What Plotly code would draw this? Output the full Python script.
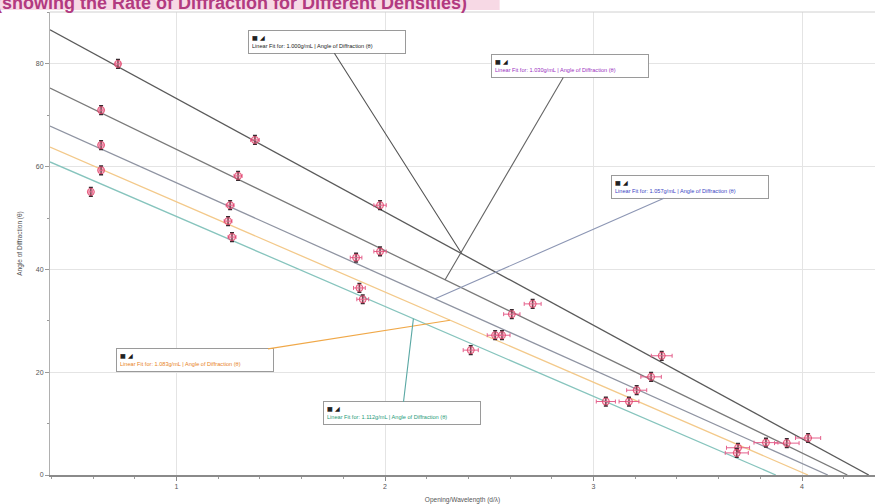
import plotly.graph_objects as go

# Liquid densities (g/mL) measured, one data set each
densities = ["1.000", "1.030", "1.057", "1.083", "1.112"]

# Opening / wavelength ratio (d/λ) and measured angle of diffraction (θ, degrees)
ratio_1000 = [0.719, 1.376, 1.976, 2.708, 3.327, 4.029]
angle_1000 = [80.0, 65.2, 52.5, 33.3, 23.2, 7.2]

ratio_1030 = [0.638, 1.295, 1.976, 2.608, 3.276, 3.927]
angle_1030 = [71.0, 58.2, 43.5, 31.3, 19.1, 6.2]

ratio_1057 = [0.638, 1.257, 1.861, 2.561, 3.207, 3.827]
angle_1057 = [64.2, 52.5, 42.3, 27.2, 16.5, 6.3]

ratio_1083 = [0.638, 1.247, 1.877, 2.528, 3.170, 3.693]
angle_1083 = [59.3, 49.4, 36.4, 27.2, 14.3, 5.3]

ratio_1112 = [0.589, 1.266, 1.893, 2.411, 3.059, 3.687]
angle_1112 = [55.1, 46.3, 34.2, 24.3, 14.3, 4.3]

# Linear fit results (angle = slope * ratio + intercept)
fit_slope = [-22.06, -19.69, -18.20, -17.55, -17.50]
fit_intercept = [95.30, 83.04, 75.05, 70.70, 67.80]

ratios = [ratio_1000, ratio_1030, ratio_1057, ratio_1083, ratio_1112]
angles = [angle_1000, angle_1030, angle_1057, angle_1083, angle_1112]

line_colors = ["#5a5a5a", "#7a7a7a", "#8f94a2", "#f3c98a", "#86c4bd"]
label_colors = ["#222222", "#9a2fc0", "#3a44c4", "#e8821e", "#1f9a78"]
leader_colors = ["#555555", "#666666", "#8c96b4", "#f0a848", "#5aa8a4"]

# Where each fit label attaches on its line, and where its box sits (data units)
label_attach_x = [2.368, 2.288, 2.240, 2.312, 2.136]
label_box_x = [1.722, 2.887, 3.463, 1.089, 2.082]
label_box_y = [84.3, 79.6, 56.1, 22.3, 12.0]

X_RANGE = [0.393, 4.35]
Y_RANGE = [0, 90.1]

FONT = "Liberation Sans, Arial, sans-serif"

fig = go.Figure()

# Fit lines, from the left edge down to where each reaches zero degrees
for m, b, col in zip(fit_slope, fit_intercept, line_colors):
    x_end = -b / m
    xs = [X_RANGE[0], x_end]
    ys = [m * x + b for x in xs]
    fig.add_trace(go.Scatter(x=xs, y=ys, mode="lines",
                             line=dict(color=col, width=1.3),
                             hoverinfo="skip", showlegend=False))

# Measured points with uncertainty bars
for xs, ys in zip(ratios, angles):
    fig.add_trace(go.Scatter(
        x=xs, y=ys, mode="markers",
        marker=dict(symbol="circle", size=7, color="rgba(240,120,150,0.35)",
                    line=dict(color="rgba(225,60,100,0.85)", width=1)),
        error_y=dict(type="constant", value=0.85, color="#3a2a30",
                     thickness=1.5, width=2),
        error_x=dict(type="percent", value=1.5, color="#e4608c",
                     thickness=1, width=2),
        showlegend=False))

# Fit label boxes with leader lines
annotations = []
for i, d in enumerate(densities):
    ax_x = label_attach_x[i]
    ax_y = fit_slope[i] * ax_x + fit_intercept[i]
    text = ("<span style='color:#1a1a1a'><b>▦ ◢</b></span><br>"
            f"<span style='color:{label_colors[i]}'>Linear Fit for: {d}g/mL | "
            "Angle of Diffraction (θ)</span>")
    annotations.append(dict(
        x=ax_x, y=ax_y, xref="x", yref="y",
        ax=label_box_x[i], ay=label_box_y[i], axref="x", ayref="y",
        text=text, showarrow=True, arrowhead=0, arrowwidth=1.1,
        arrowcolor=leader_colors[i], standoff=0, startstandoff=0,
        align="left", width=150, height=16,
        bgcolor="white", bordercolor="#9a9a9a", borderwidth=1, borderpad=3,
        font=dict(family=FONT, size=5.6, color=label_colors[i])))

# Heading strip along the top edge
annotations.append(dict(
    xref="paper", yref="paper", x=-0.068, y=1.0205,
    xanchor="left", yanchor="middle", showarrow=False,
    text="<b>(showing the Rate of Diffraction for Different Densities)</b>",
    font=dict(family=FONT, size=18, color="#b23a80")))

fig.update_layout(
    width=875, height=504,
    margin=dict(l=50, r=0, t=12, b=29),
    paper_bgcolor="white", plot_bgcolor="white",
    font=dict(family=FONT, size=7, color="#555555"),
    annotations=annotations,
    shapes=[dict(type="rect", xref="paper", yref="paper",
                 x0=-0.07, x1=0.545, y0=1.0045, y1=1.03,
                 fillcolor="#f7d9e5", line=dict(width=0), layer="below")],
)

fig.update_xaxes(
    range=X_RANGE, tick0=0, dtick=1,
    showgrid=True, gridcolor="#e4e4e4", gridwidth=1,
    showline=True, linecolor="#8a8a8a", linewidth=1.5, mirror=False,
    ticks="outside", ticklen=4, tickcolor="#8a8a8a",
    minor=dict(dtick=0.2, ticks="outside", ticklen=2, tickcolor="#9a9a9a", showgrid=False),
    zeroline=False,
    tickfont=dict(size=7, color="#555555"),
    title=dict(text="Opening/Wavelength (d/λ)", font=dict(size=6.5, color="#555555"),
               standoff=8),
)
fig.update_yaxes(
    range=Y_RANGE, tick0=0, dtick=20,
    showgrid=True, gridcolor="#e4e4e4", gridwidth=1,
    showline=True, linecolor="#b0b0b0", linewidth=1, mirror=False,
    ticks="outside", ticklen=4, tickcolor="#9a9a9a",
    minor=dict(dtick=10, ticks="outside", ticklen=2, tickcolor="#9a9a9a", showgrid=False),
    zeroline=False,
    tickfont=dict(size=7, color="#555555"),
    title=dict(text="Angle of Diffraction (θ)", font=dict(size=6.5, color="#555555"),
               standoff=12),
)

# Light frame along the top of the plotting area
fig.add_shape(type="line", xref="paper", yref="paper", x0=0, x1=1, y0=1, y1=1,
              line=dict(color="#d0d0d0", width=1))

fig.write_html("out.html")
